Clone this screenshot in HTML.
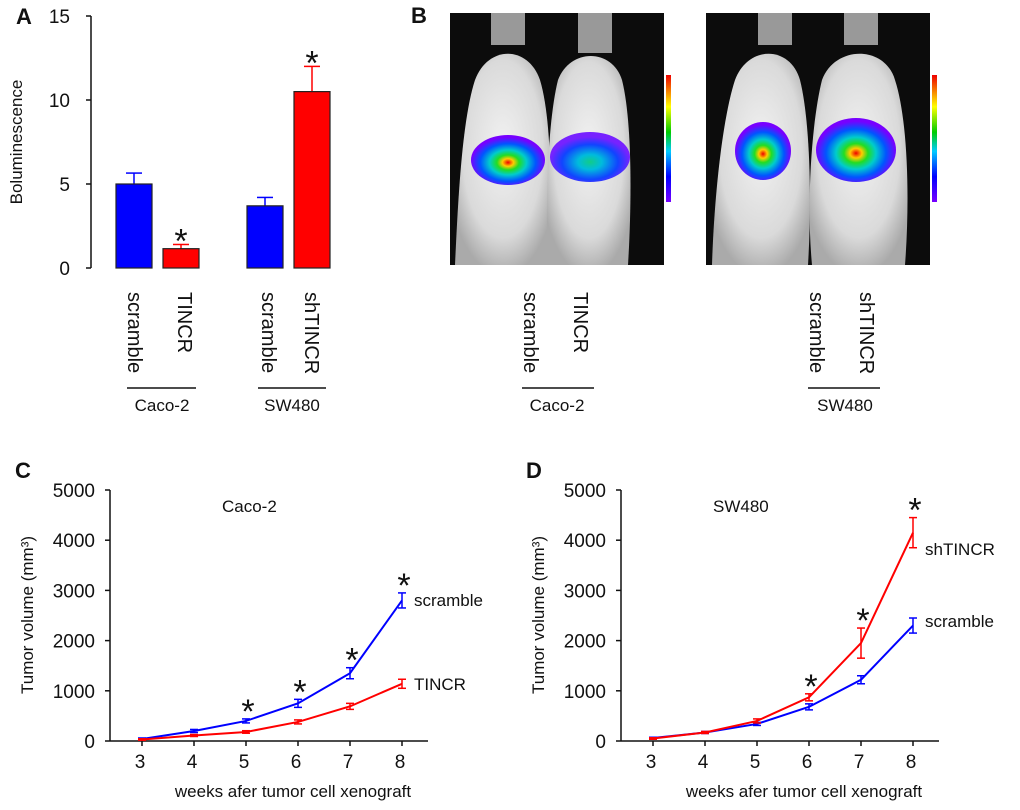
<!DOCTYPE html>
<html><head><meta charset="utf-8"><style>
body{margin:0;background:#fff;width:1020px;height:805px;overflow:hidden;font-family:"Liberation Sans",Arial,sans-serif}
svg text{font-family:"Liberation Sans",Arial,sans-serif;fill:#111}
</style></head><body>
<svg id="fig" width="1020" height="805" viewBox="0 0 1020 805">
<defs>
<radialGradient id="heat" cx="50%" cy="55%" r="50%">
<stop offset="0" stop-color="#e00"/><stop offset="0.15" stop-color="#fc0"/><stop offset="0.3" stop-color="#2d2"/><stop offset="0.5" stop-color="#0cc"/><stop offset="0.75" stop-color="#05f"/><stop offset="1" stop-color="#70f"/></radialGradient>
<radialGradient id="heat2" cx="50%" cy="60%" r="50%">
<stop offset="0" stop-color="#1c8"/><stop offset="0.3" stop-color="#0bd"/><stop offset="0.7" stop-color="#14f"/><stop offset="1" stop-color="#72f"/></radialGradient>
<linearGradient id="cbar" x1="0" y1="1" x2="0" y2="0">
<stop offset="0" stop-color="#70f"/><stop offset="0.2" stop-color="#00f"/><stop offset="0.4" stop-color="#0cf"/><stop offset="0.55" stop-color="#0c0"/><stop offset="0.75" stop-color="#ff0"/><stop offset="1" stop-color="#e00"/></linearGradient>
<radialGradient id="fur" cx="50%" cy="45%" r="60%"><stop offset="0" stop-color="#f2f2f2"/><stop offset="0.7" stop-color="#dadada"/><stop offset="1" stop-color="#aaa"/></radialGradient>
</defs>
<g id="panelA"></g>
<g id="panelB">
<text x="411" y="23" font-size="22" font-weight="bold">B</text>
<rect x="450" y="13" width="214" height="252" fill="#0c0c0c"/>
<rect x="706" y="13" width="224" height="252" fill="#0c0c0c"/>
<g fill="url(#fur)">
<rect x="491" y="13" width="34" height="32" fill="#999"/><rect x="578" y="13" width="34" height="40" fill="#999"/>
<rect x="758" y="13" width="34" height="32" fill="#999"/><rect x="844" y="13" width="34" height="32" fill="#999"/>
<path d="M455 265 C458 200 462 120 475 80 C488 45 528 45 540 80 C552 120 552 200 548 265Z"/>
<path d="M548 265 C545 200 548 120 558 80 C570 48 612 48 622 80 C632 120 632 200 628 265Z"/>
<path d="M712 265 C714 200 722 120 735 80 C748 45 790 45 800 80 C810 120 812 200 808 265Z"/>
<path d="M812 265 C806 200 812 120 822 80 C835 45 885 45 895 80 C908 120 910 200 905 265Z"/>
</g>
<ellipse cx="508" cy="160" rx="37" ry="25" fill="url(#heat)"/>
<ellipse cx="590" cy="157" rx="40" ry="25" fill="url(#heat2)"/>
<ellipse cx="763" cy="151" rx="28" ry="29" fill="url(#heat)"/>
<ellipse cx="856" cy="150" rx="40" ry="32" fill="url(#heat)"/>
<rect x="666" y="75" width="5" height="127" fill="url(#cbar)"/>
<rect x="932" y="75" width="5" height="127" fill="url(#cbar)"/>
</g>
<g id="panelBlabels">
<text transform="translate(524,292) rotate(90)" font-size="20">scramble</text>
<text transform="translate(574,292) rotate(90)" font-size="20">TINCR</text>
<line x1="522" y1="388" x2="594" y2="388" stroke="#111" stroke-width="1.5"/>
<text x="557" y="411" text-anchor="middle" font-size="17">Caco-2</text>
<text transform="translate(810,292) rotate(90)" font-size="20">scramble</text>
<text transform="translate(860,292) rotate(90)" font-size="20">shTINCR</text>
<line x1="808" y1="388" x2="880" y2="388" stroke="#111" stroke-width="1.5"/>
<text x="845" y="411" text-anchor="middle" font-size="17">SW480</text>
</g>
<g id="panelC"></g>
<g id="panelD"></g>
</svg>
<script>
const NS='http://www.w3.org/2000/svg';
function mk(p,tag,at,txt){const e=document.createElementNS(NS,tag);for(const k in at)e.setAttribute(k,at[k]);if(txt!==undefined)e.textContent=txt;p.appendChild(e);return e;}

// ---- Panel A data
const barCats=['scramble','TINCR','scramble','shTINCR'];
const barVals=[5.0,1.15,3.7,10.5];
const barErrs=[0.65,0.25,0.5,1.5];
const barSig=[false,true,false,true];
const aTicks=[0,5,10,15];
(function(){
const g=document.getElementById('panelA');
const y0=268,y1=16,yMax=15;const ys=v=>y0-(y0-y1)*v/yMax;
const xs=[116,163,247,294],bw=36,cols=['#00f','#f00','#00f','#f00'];
let t=mk(g,'text',{x:16,y:24,'font-size':22,'font-weight':'bold'},'A');


mk(g,'line',{x1:91,y1:y1,x2:91,y2:y0,stroke:'#111','stroke-width':1.5});
aTicks.forEach(v=>{mk(g,'line',{x1:86,y1:ys(v),x2:91,y2:ys(v),stroke:'#111','stroke-width':1.5});
 const e=mk(g,'text',{x:70,y:ys(v)+7,'font-size':19,'text-anchor':'end'},v);
 
 });
t=mk(g,'text',{transform:'translate(22,142) rotate(-90)','font-size':17,'text-anchor':'middle'},'Boluminescence');


barVals.forEach((v,i)=>{const x=xs[i],c=cols[i],yt=ys(v),ye=ys(v+barErrs[i]);
 mk(g,'line',{x1:x+bw/2,y1:yt,x2:x+bw/2,y2:ye,stroke:c,'stroke-width':1.5});
 mk(g,'line',{x1:x+bw/2-8,y1:ye,x2:x+bw/2+8,y2:ye,stroke:c,'stroke-width':1.5});
 const r=mk(g,'rect',{x:x,y:yt,width:bw,height:y0-yt,fill:c,stroke:'#222','stroke-width':1.2});
 
 
 if(barSig[i])mk(g,'text',{x:x+bw/2,y:ye+8,'font-size':34,'text-anchor':'middle'},'*');
});
const lab=[128,178,262,305];
barCats.forEach((c,i)=>{const e=mk(g,'text',{transform:`translate(${lab[i]},292) rotate(90)`,'font-size':20},c);
 
 });
mk(g,'line',{x1:127,y1:388,x2:196,y2:388,stroke:'#111','stroke-width':1.5});
mk(g,'line',{x1:258,y1:388,x2:326,y2:388,stroke:'#111','stroke-width':1.5});
mk(g,'text',{x:162,y:411,'font-size':17,'text-anchor':'middle'},'Caco-2');
mk(g,'text',{x:292,y:411,'font-size':17,'text-anchor':'middle'},'SW480');
})();

// ---- Line chart data
const weeks=[3,4,5,6,7,8];
const yTicks=[0,1000,2000,3000,4000,5000];
const cScramble=[40,200,400,750,1350,2800];
const cScrambleErr=[20,30,40,80,110,150];
const cTincr=[30,110,180,380,690,1140];
const cTincrErr=[15,20,25,40,60,90];
const cSig=[false,false,true,true,true,true];
const dScramble=[60,170,340,680,1220,2300];
const dScrambleErr=[15,20,30,60,80,150];
const dSh=[50,170,400,870,1950,4150];
const dShErr=[15,20,40,70,300,300];
const dSig=[false,false,false,true,true,true];

function lineChart(id,ox,letter,title,titleX,s1,e1,n1,s2,e2,n2,sig,lab1y,lab2y){
const g=document.getElementById(id);
const y0=741,yT=490,xa=ox,x3=ox+32,dx=52;
const ys=v=>y0-(y0-yT)*v/5000;const xs=w=>x3+(w-3)*dx;
let t=mk(g,'text',{x:ox-95,y:478,'font-size':22,'font-weight':'bold'},letter);


mk(g,'line',{x1:xa,y1:yT,x2:xa,y2:y0,stroke:'#111','stroke-width':1.5});
mk(g,'line',{x1:xa,y1:y0,x2:xa+318,y2:y0,stroke:'#111','stroke-width':1.5});
yTicks.forEach(v=>{mk(g,'line',{x1:xa-5,y1:ys(v),x2:xa,y2:ys(v),stroke:'#111','stroke-width':1.5});
 const e=mk(g,'text',{x:xa-15,y:ys(v)+7,'font-size':19,'text-anchor':'end'},v);
 
 });
weeks.forEach(w=>{mk(g,'line',{x1:xs(w),y1:y0,x2:xs(w),y2:y0+5,stroke:'#111','stroke-width':1.5});
 const e=mk(g,'text',{x:xs(w)-2,y:768,'font-size':19,'text-anchor':'middle'},w);
 
 });
t=mk(g,'text',{x:xa+183,y:797,'font-size':17,'text-anchor':'middle'},'weeks afer tumor cell xenograft');


t=mk(g,'text',{transform:`translate(${ox-77},615) rotate(-90)`,'font-size':17,'text-anchor':'middle'},'Tumor volume (mm³)');


t=mk(g,'text',{x:titleX,y:512,'font-size':17},title);


[[s1,e1,'#00f',n1,lab1y],[s2,e2,'#f00',n2,lab2y]].forEach(([s,e,c,n,ly])=>{
 const p=mk(g,'polyline',{points:s.map((v,i)=>xs(weeks[i])+','+ys(v)).join(' '),fill:'none',stroke:c,'stroke-width':2});
 
 
 s.forEach((v,i)=>{const x=xs(weeks[i]);
  mk(g,'line',{x1:x,y1:ys(v-e[i]),x2:x,y2:ys(v+e[i]),stroke:c,'stroke-width':1.5});
  mk(g,'line',{x1:x-4,y1:ys(v-e[i]),x2:x+4,y2:ys(v-e[i]),stroke:c,'stroke-width':1.5});
  mk(g,'line',{x1:x-4,y1:ys(v+e[i]),x2:x+4,y2:ys(v+e[i]),stroke:c,'stroke-width':1.5});});
 const l=mk(g,'text',{x:xs(8)+12,y:ly,'font-size':17},n);
 
 
});
sig.forEach((sg,i)=>{if(!sg)return;const top=Math.max(s1[i]+e1[i],s2[i]+e2[i]);
 mk(g,'text',{x:xs(weeks[i])+2,y:ys(top)+4,'font-size':34,'text-anchor':'middle'},'*');});
}
lineChart('panelC',110,'C','Caco-2',222,cScramble,cScrambleErr,'scramble',cTincr,cTincrErr,'TINCR',cSig,606,690);
lineChart('panelD',621,'D','SW480',713,dScramble,dScrambleErr,'scramble',dSh,dShErr,'shTINCR',dSig,627,555);
</script>
</body></html>
